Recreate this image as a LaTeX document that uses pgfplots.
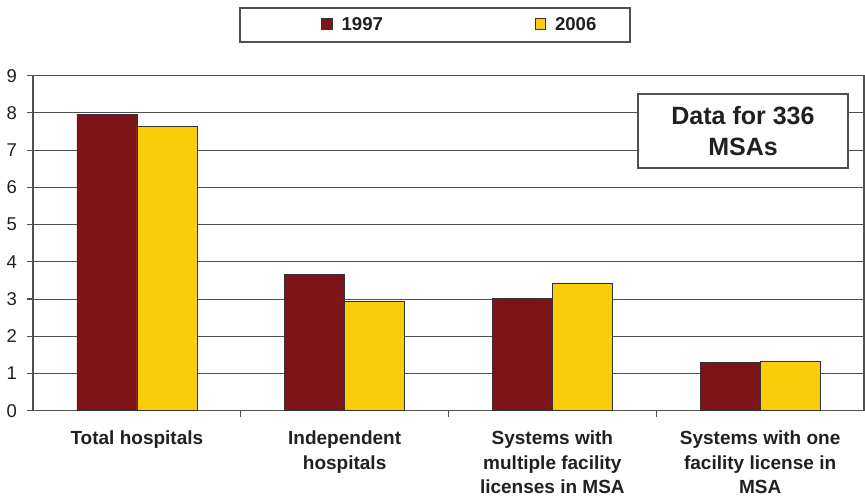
\documentclass[border=0pt]{standalone}
\usepackage{pgfplots}
\pgfplotsset{compat=1.18}
\usepackage{fontspec}
\setmainfont{Liberation Sans}
\definecolor{c1997}{RGB}{125,20,24}
\definecolor{c2006}{RGB}{252,204,10}
\definecolor{gridc}{RGB}{80,80,80}
\definecolor{txt}{RGB}{35,31,32}

\begin{document}
\begin{tikzpicture}
\useasboundingbox (-33pt,-91.3pt) rectangle (832pt,410.7pt);
\begin{axis}[
    at={(0,0)}, anchor=south west,
    scale only axis, width=831pt, height=335pt,
    ybar=0pt, bar width=60pt,
    xmin=-0.5, xmax=3.5, ymin=0, ymax=9,
    xtick={0,1,2,3},
    xticklabels={{Total hospitals},{Independent\\hospitals},{Systems with\\multiple facility\\licenses in MSA},{Systems with one\\facility license in\\MSA}},
    extra x ticks={0.5,1.5,2.5},
    extra x tick labels={},
    extra x tick style={grid=none, xtick style={draw=gridc, line width=1.1pt}},
    xtick style={draw=none},
    ytick={0,...,9},
    ymajorgrids,
    grid style={gridc, line width=1pt},
    axis line style={gridc, line width=1.1pt},
    tick pos=left,
    tick align=outside,
    major tick length=6pt,
    ytick style={gridc, line width=1.1pt},
    /pgf/number format/assume math mode=true,
    yticklabel style={font=\fontsize{18.5}{22}\selectfont, text=txt, inner sep=0pt, xshift=-10pt},
    xticklabel style={align=center, font=\bfseries\fontsize{19}{24.5}\selectfont, text=txt, inner sep=0pt, yshift=-14pt},
    legend style={at={(rel axis cs:0.5138,1.1513)}, anchor=center, draw=none, fill=none,
        font=\bfseries\fontsize{18.6}{22}\selectfont, text=txt,
        /tikz/every odd column/.append style={column sep=7pt},
        /tikz/every even column/.append style={column sep=150pt}},
    legend columns=2,
    legend image code/.code={\draw[#1, line width=0.6pt] (0pt,-4pt) rectangle (10.5pt,6.5pt);},
]
\addplot[fill=c1997, draw=black!80, line width=0.7pt] coordinates {(0,7.97) (1,3.65) (2,3.01) (3,1.29)};
\addplot[fill=c2006, draw=black!80, line width=0.7pt] coordinates {(0,7.64) (1,2.93) (2,3.41) (3,1.33)};
\legend{1997,2006}
\end{axis}
% legend frame
\draw[gridc, line width=1.1pt] (207pt,368.7pt) rectangle (597pt,402.7pt);
% annotation box
\draw[gridc, line width=1.1pt, fill=white] (605pt,242.7pt) rectangle (815pt,316.7pt);
\node[align=center, text=txt, font=\bfseries\fontsize{25}{31}\selectfont] at (710pt,279.7pt) {Data for 336\\MSAs};
\end{tikzpicture}
\end{document}
